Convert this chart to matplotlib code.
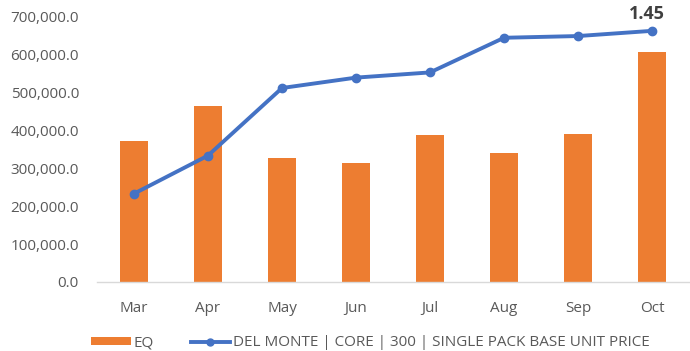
import matplotlib
matplotlib.use("Agg")
import matplotlib.pyplot as plt
from matplotlib.ticker import FuncFormatter, MultipleLocator
from matplotlib.patches import Patch
from matplotlib.lines import Line2D

months = ["Mar", "Apr", "May", "Jun", "Jul", "Aug", "Sep", "Oct"]
eq_volume = [372000, 465000, 327000, 314000, 388000, 341000, 391000, 607000]
unit_price = [0.51, 0.73, 1.12, 1.18, 1.21, 1.41, 1.42, 1.45]

bar_label = "EQ"
line_label = "DEL MONTE | CORE | 300 | SINGLE PACK BASE UNIT PRICE"

ORANGE = "#ED7D31"
BLUE = "#4472C4"
GREY = "#595959"

plt.rcParams["font.family"] = ["Open Sans", "DejaVu Sans"]

fig = plt.figure(figsize=(6.9, 3.51), dpi=100)
ax = fig.add_axes([0.1406, 0.1966, 0.858, 0.755])
x = range(len(months))

ax.bar(x, eq_volume, width=0.39, color=ORANGE, zorder=2)
ax.set_ylim(0, 700000)
ax.set_xlim(-0.5, len(months) - 0.5)
ax.yaxis.set_major_locator(MultipleLocator(100000))
ax.yaxis.set_major_formatter(FuncFormatter(lambda v, p: f"{v:,.1f}"))
ax.set_xticks(list(x))
ax.set_xticklabels(months)
ax.tick_params(axis="both", length=0, labelsize=11, labelcolor=GREY)
ax.tick_params(axis="y", pad=13)
ax.tick_params(axis="x", pad=14)
for side in ["top", "right", "left"]:
    ax.spines[side].set_visible(False)
ax.spines["bottom"].set_color("#D9D9D9")
ax.spines["bottom"].set_linewidth(1)

ax2 = ax.twinx()
ax2.set_ylim(0, 1.53)
ax2.plot(x, unit_price, color=BLUE, linewidth=2.8, marker="o",
         markersize=6, zorder=3)
ax2.axis("off")
ax2.annotate(f"{unit_price[-1]:.2f}", (len(months) - 1, unit_price[-1]),
             xytext=(-4, 6), textcoords="offset points", ha="center",
             va="bottom", fontsize=13, fontweight="bold", color="#404040")

handles = [
    Patch(facecolor=ORANGE, edgecolor="none", label=bar_label),
    Line2D([0], [0], color=BLUE, linewidth=2.8, marker="o", markersize=5,
           label=line_label),
]
fig.legend(handles=handles, loc="center", bbox_to_anchor=(0.537, 0.023),
           ncol=2, frameon=False, fontsize=11, labelcolor=GREY,
           handlelength=2.6, handleheight=0.5, handletextpad=0.2,
           columnspacing=2.4)

fig.savefig("out.png", dpi=100)
